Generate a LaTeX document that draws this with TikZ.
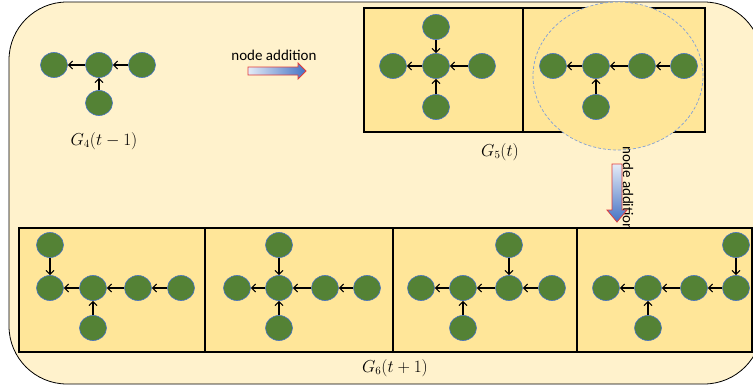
\documentclass[tikz,border=0pt]{standalone}
\usepackage{fontspec}
\newfontfamily\labelfont{Carlito}
\usetikzlibrary{shapes.geometric,arrows.meta}
\definecolor{outerfill}{HTML}{FFF2CC}
\definecolor{boxfill}{HTML}{FFE699}
\definecolor{nodegreen}{HTML}{548235}
\definecolor{nodeblue}{HTML}{4472C4}
\definecolor{arrowblue}{HTML}{4472C4}
\definecolor{arrowmid}{HTML}{5A82CC}
\definecolor{arrowlight}{HTML}{E4EBF7}
\definecolor{arrowred}{HTML}{E03C3C}
\definecolor{dashblue}{HTML}{7F9FD8}
\begin{document}
\begin{tikzpicture}[x=1pt,y=-1pt,
  gn/.style={ellipse,draw=nodeblue,line width=0.6pt,fill=nodegreen,minimum width=27pt,minimum height=25pt,inner sep=0pt},
  ed/.style={-{Straight Barb[length=4pt,width=8pt]},line width=1.1pt},
  panel/.style={draw=black,line width=1.3pt,fill=boxfill},
  glabel/.style={font=\fontsize{16}{18}\selectfont},
  addtext/.style={font=\labelfont\fontsize{15}{18}\selectfont},
  blockarrow/.style={draw=arrowred,line width=0.8pt}]
\useasboundingbox (0,0) rectangle (753,388);
% outer frame
\path[fill=outerfill,draw=black,line width=0.8pt,rounded corners=58pt] (9,2) rectangle (762,384);

% ---------- G4(t-1)
\node[gn] (a1) at (54,65) {};
\node[gn] (a2) at (99,65) {};
\node[gn] (a3) at (142,65) {};
\node[gn] (a4) at (99,103) {};
\draw[ed] (a3) -- (a2);
\draw[ed] (a2) -- (a1);
\draw[ed] (a4) -- (a2);
\node[glabel] (lg4) at (104,141) {$G_4(t-1)$};

% ---------- horizontal node addition arrow
\node[addtext] (na1) at (274,55) {node addition};
\shade[left color=arrowlight,middle color=arrowmid,right color=arrowblue,blockarrow]
  (248,67) -- (298,67) -- (298,63) -- (306,71) -- (298,79) -- (298,75) -- (248,75) -- cycle;

% ---------- G5(t)
\draw[panel] (364,8) rectangle (523,132);
\draw[panel] (523,8) rectangle (705,132);
\draw[dashed,dash pattern=on 3pt off 2pt,draw=dashblue,line width=0.7pt,fill=boxfill] (618,76) ellipse [x radius=85pt,y radius=74pt];

\node[gn] (b1) at (436,27) {};
\node[gn] (b2) at (393,66) {};
\node[gn] (b3) at (436,66) {};
\node[gn] (b4) at (482,66) {};
\node[gn] (b5) at (436,107) {};
\draw[ed] (b1) -- (b3);
\draw[ed] (b4) -- (b3);
\draw[ed] (b5) -- (b3);
\draw[ed] (b3) -- (b2);

\node[gn] (c1) at (553,66) {};
\node[gn] (c2) at (596,66) {};
\node[gn] (c3) at (642,66) {};
\node[gn] (c4) at (684,66) {};
\node[gn] (c5) at (596,107) {};
\draw[ed] (c4) -- (c3);
\draw[ed] (c3) -- (c2);
\draw[ed] (c2) -- (c1);
\draw[ed] (c5) -- (c2);
\node[glabel] (lg5) at (500,152) {$G_5(t)$};

% ---------- vertical node addition arrow
\node[addtext,rotate=-90,anchor=west] (na2) at (628,143) {node addition};
\shade[top color=arrowlight,middle color=arrowmid,bottom color=arrowblue,blockarrow]
  (612,164) -- (622,164) -- (622,210) -- (627,210) -- (617,222) -- (607,210) -- (612,210) -- cycle;

% ---------- G6(t+1)
\draw[panel] (19,228) rectangle (205,352);
\draw[panel] (205,228) rectangle (393,352);
\draw[panel] (393,228) rectangle (577,352);
\draw[panel] (577,228) rectangle (752,352);

% panel 1
\node[gn] (d0) at (50,245) {};
\node[gn] (d1) at (50,288) {};
\node[gn] (d2) at (93,288) {};
\node[gn] (d3) at (138,288) {};
\node[gn] (d4) at (181,288) {};
\node[gn] (d5) at (93,328) {};
\draw[ed] (d0) -- (d1);
\draw[ed] (d2) -- (d1);
\draw[ed] (d3) -- (d2);
\draw[ed] (d4) -- (d3);
\draw[ed] (d5) -- (d2);

% panel 2
\node[gn] (e0) at (279,245) {};
\node[gn] (e1) at (237,288) {};
\node[gn] (e2) at (279,288) {};
\node[gn] (e3) at (325,288) {};
\node[gn] (e4) at (367,288) {};
\node[gn] (e5) at (279,328) {};
\draw[ed] (e0) -- (e2);
\draw[ed] (e2) -- (e1);
\draw[ed] (e3) -- (e2);
\draw[ed] (e4) -- (e3);
\draw[ed] (e5) -- (e2);

% panel 3
\node[gn] (f0) at (509,245) {};
\node[gn] (f1) at (421,288) {};
\node[gn] (f2) at (463,288) {};
\node[gn] (f3) at (509,288) {};
\node[gn] (f4) at (552,288) {};
\node[gn] (f5) at (463,328) {};
\draw[ed] (f0) -- (f3);
\draw[ed] (f4) -- (f3);
\draw[ed] (f3) -- (f2);
\draw[ed] (f2) -- (f1);
\draw[ed] (f5) -- (f2);

% panel 4
\node[gn] (g0) at (736,245) {};
\node[gn] (g1) at (606,288) {};
\node[gn] (g2) at (648,288) {};
\node[gn] (g3) at (694,288) {};
\node[gn] (g4) at (736,288) {};
\node[gn] (g5) at (648,328) {};
\draw[ed] (g0) -- (g4);
\draw[ed] (g4) -- (g3);
\draw[ed] (g3) -- (g2);
\draw[ed] (g2) -- (g1);
\draw[ed] (g5) -- (g2);

\node[glabel] (lg6) at (395,368) {$G_6(t+1)$};
\end{tikzpicture}
\end{document}
